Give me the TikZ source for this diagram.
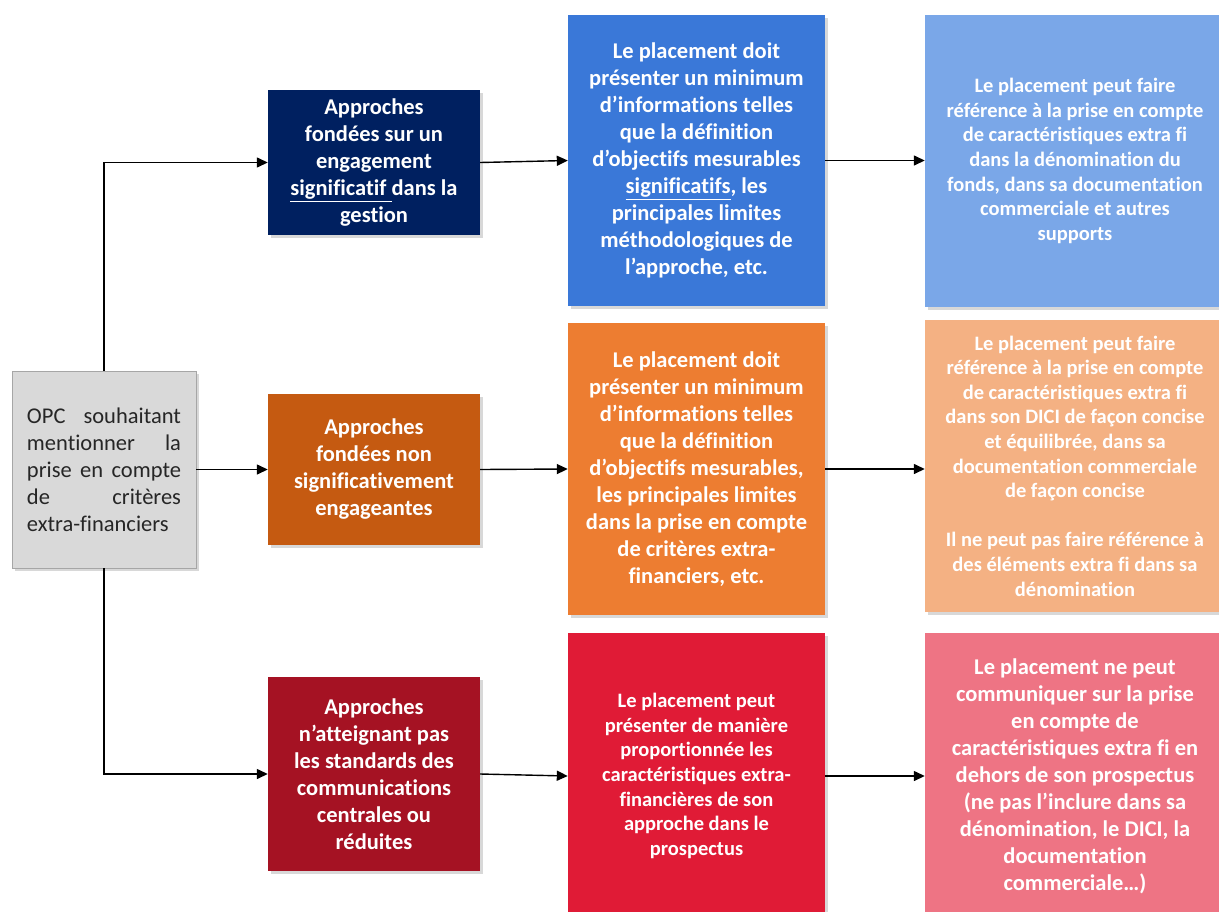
\documentclass[tikz,border=0pt]{standalone}
\usepackage{fontspec}
\setmainfont{Carlito}[Ligatures=NoCommon]
\usetikzlibrary{arrows.meta,shadows}
\definecolor{cnavy}{HTML}{002060}
\definecolor{cdorange}{HTML}{C55A11}
\definecolor{cdred}{HTML}{A51223}
\definecolor{cblue}{HTML}{3A78D8}
\definecolor{corange}{HTML}{ED7D31}
\definecolor{cred}{HTML}{E01B36}
\definecolor{clblue}{HTML}{7AA7E8}
\definecolor{clorange}{HTML}{F4B183}
\definecolor{cpink}{HTML}{EE7484}
\definecolor{cgray}{HTML}{D9D9D9}
\newcommand{\jline}[1]{\leavevmode\hbox to 154pt{#1}}
\tikzset{
  box/.style={rectangle, inner sep=0pt, align=center, text=white,
    drop shadow={shadow xshift=3pt, shadow yshift=-3pt, opacity=0.3}},
  bigtxt/.style={font=\fontsize{22.5}{27}\selectfont\bfseries},
  smalltxt/.style={font=\fontsize{20.5}{24.6}\selectfont\bfseries},
  arr/.style={line width=1.4pt, -{Triangle[length=11pt,width=10pt]}},
}
\begin{document}
\begin{tikzpicture}[x=1pt,y=-1pt]
\path[use as bounding box, clip] (0,0) rectangle (1219,911);
\fill[white] (0,0) rectangle (1219,911);

% column 1
\node[box, fill=cgray, draw=black!35, line width=0.8pt, text=black!85,
  minimum width=184, minimum height=197,
  font=\fontsize{22.5}{27}\selectfont, text width=154, align=left] (opc) at (104,469.5)
  {\jline{OPC\hfill souhaitant}\\
   \jline{mentionner\hfill la}\\
   \jline{prise\hfill en\hfill compte}\\
   \jline{de\hfill critères}\\
   extra-financiers};

% column 2
\node[box, bigtxt, fill=cnavy, minimum width=212, minimum height=145] (a1) at (374,162.5)
  {Approches\\fondées sur un\\engagement\\\underline{significatif\ }dans la\\gestion};
\node[box, bigtxt, fill=cdorange, minimum width=212, minimum height=151] (a2) at (374,469.5)
  {Approches\\fondées non\\significativement\\engageantes};
\node[box, bigtxt, fill=cdred, minimum width=212, minimum height=194] (a3) at (374,774)
  {Approches\\n’atteignant pas\\les standards des\\communications\\centrales ou\\réduites};

% column 3
\node[box, bigtxt, fill=cblue, minimum width=257, minimum height=291] (b1) at (696.5,160.5)
  {Le placement doit\\présenter un minimum\\d’informations telles\\que la définition\\d’objectifs mesurables\\\underline{significatifs}, les\\principales limites\\méthodologiques de\\l’approche, etc.};
\node[box, bigtxt, fill=corange, minimum width=257, minimum height=292] (b2) at (696.5,469)
  {Le placement doit\\présenter un minimum\\d’informations telles\\que la définition\\d’objectifs mesurables,\\les principales limites\\dans la prise en compte\\de critères extra-\\financiers, etc.};
\node[box, smalltxt, fill=cred, minimum width=257, minimum height=286] (b3) at (696.5,776)
  {Le placement peut\\présenter de manière\\proportionnée les\\caractéristiques extra-\\financières de son\\approche dans le\\prospectus};

% column 4
\node[box, smalltxt, fill=clblue, minimum width=300, minimum height=292] (c1) at (1075,161)
  {Le placement peut faire\\référence à la prise en compte\\de caractéristiques extra fi\\dans la dénomination du\\fonds, dans sa documentation\\commerciale et autres\\supports};
\node[box, smalltxt, fill=clorange, minimum width=300, minimum height=292] (c2) at (1075,466)
  {Le placement peut faire\\référence à la prise en compte\\de caractéristiques extra fi\\dans son DICI de façon concise\\et équilibrée, dans sa\\documentation commerciale\\de façon concise\\[24.6pt]Il ne peut pas faire référence à\\des éléments extra fi dans sa\\dénomination};
\node[box, bigtxt, fill=cpink, minimum width=300, minimum height=286] (c3) at (1075,776)
  {Le placement ne peut\\communiquer sur la prise\\en compte de\\caractéristiques extra fi en\\dehors de son prospectus\\(ne pas l’inclure dans sa\\dénomination, le DICI, la\\documentation\\commerciale…)};

% connectors
\draw[arr] (opc.north) |- (a1.west);
\draw[arr] (opc.east) -- (a2.west);
\draw[arr] (opc.south) |- (a3.west);
\draw[arr] (a1.east) -- (b1.west);
\draw[arr] (a2.east) -- (b2.west);
\draw[arr] (a3.east) -- (b3.west);
\draw[arr] (b1.east) -- (b1.east -| c1.west);
\draw[arr] (b2.east) -- (b2.east -| c2.west);
\draw[arr] (b3.east) -- (b3.east -| c3.west);
\end{tikzpicture}
\end{document}
